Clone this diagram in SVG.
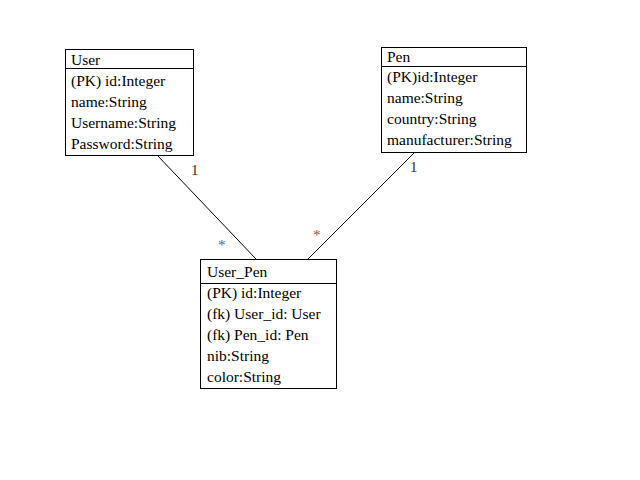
<svg xmlns="http://www.w3.org/2000/svg" width="640" height="480" viewBox="0 0 640 480">
<style>
.box{fill:#fff;stroke:#000;stroke-width:1}
.t{font-family:"Liberation Serif",serif;font-size:15.5px;fill:#000}
.c{stroke:#000;stroke-width:1;fill:none}
.m1{font-family:"Liberation Serif",serif;font-size:15px;fill:#4a2a10}
.ms{font-family:"Liberation Serif",serif;font-size:15px}
</style>
<rect width="640" height="480" fill="#fff"/>
<g id="connectors">
<line class="c" x1="157" y1="155" x2="256" y2="259"/>
<line class="c" x1="415" y1="152" x2="308" y2="259"/>
<text class="m1" x="191" y="175">1</text>
<text class="m1" x="410" y="172">1</text>
<text class="ms" x="218" y="250" fill="#3a6ea5">*</text>
<text class="ms" x="313" y="240" fill="#8b5a2b">*</text>
</g>
<g id="User">
<rect class="box" x="65.5" y="49.5" width="128" height="106"/>
<line class="c" x1="65.5" y1="68.5" x2="193.5" y2="68.5"/>
<text class="t" x="71" y="65">User</text>
<text class="t" x="71" y="86">(PK) id:Integer</text>
<text class="t" x="71" y="107">name:String</text>
<text class="t" x="71" y="128">Username:String</text>
<text class="t" x="71" y="149">Password:String</text>
</g>
<g id="Pen">
<rect class="box" x="381.5" y="47.5" width="145" height="105"/>
<line class="c" x1="381.5" y1="66.5" x2="526.5" y2="66.5"/>
<text class="t" x="387" y="62">Pen</text>
<text class="t" x="387" y="82">(PK)id:Integer</text>
<text class="t" x="387" y="103">name:String</text>
<text class="t" x="387" y="124">country:String</text>
<text class="t" x="387" y="145">manufacturer:String</text>
</g>
<g id="User_Pen">
<rect class="box" x="200.5" y="259.5" width="136" height="129"/>
<line class="c" x1="200.5" y1="283.5" x2="336.5" y2="283.5"/>
<text class="t" x="207" y="277">User_Pen</text>
<text class="t" x="207" y="298">(PK) id:Integer</text>
<text class="t" x="207" y="319">(fk) User_id: User</text>
<text class="t" x="207" y="340">(fk) Pen_id: Pen</text>
<text class="t" x="207" y="361">nib:String</text>
<text class="t" x="207" y="382">color:String</text>
</g>
</svg>
